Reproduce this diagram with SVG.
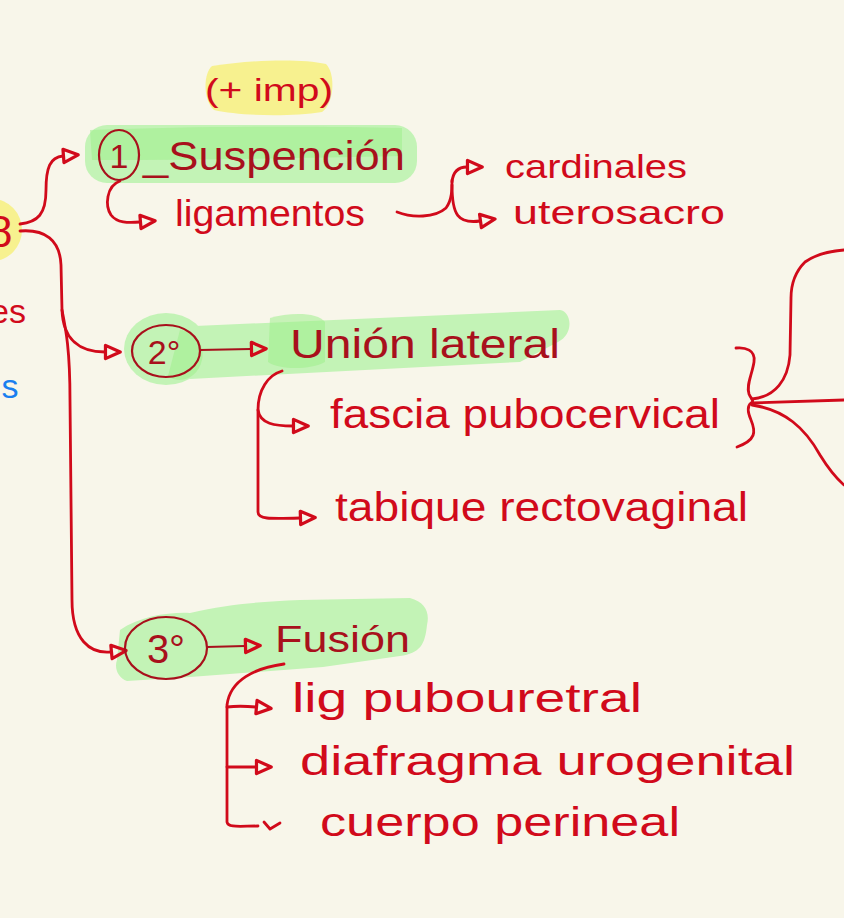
<svg xmlns="http://www.w3.org/2000/svg" width="844" height="918" viewBox="0 0 844 918">
<style>
.t{font-family:"Liberation Sans","DejaVu Sans",sans-serif;fill:#d10a1b}
.td{font-family:"Liberation Sans","DejaVu Sans",sans-serif;fill:#a8101c}
.ln{fill:none;stroke:#d10a1b;stroke-width:2.8;stroke-linecap:round;stroke-linejoin:round}
.lnd{fill:none;stroke:#a8101c;stroke-width:2.2;stroke-linecap:round}
.arr{marker-end:url(#ah)}
.g{fill:#c3f3b6}
.gd{fill:#9eef8c;opacity:0.55}
.y{fill:#f7f18f}
</style>
<defs>
<marker id="ah" viewBox="0 0 20 20" markerWidth="19" markerHeight="19" refX="2" refY="10" orient="auto" markerUnits="userSpaceOnUse">
<path d="M2.5,3 L18,10 L2.5,17 Z" fill="none" stroke="#d10a1b" stroke-width="3.4" stroke-linejoin="round"/>
</marker>
</defs>
<rect width="844" height="918" fill="#f8f6ea"/>

<g id="highlights">
<ellipse class="y" cx="-8" cy="230" rx="30" ry="31"/>
<path class="y" d="M212,66 C250,60 300,58 326,64 C336,74 334,104 322,112 C290,117 240,116 214,110 C203,100 203,74 212,66 Z"/>
<rect class="g" x="85" y="125" width="332" height="58" rx="22"/>
<path class="gd" d="M90,130 C200,126 320,126 402,128 L402,156 C300,158 200,160 92,160 Z"/>
<ellipse class="g" cx="166" cy="349" rx="42" ry="36"/>
<path class="g" d="M195,326 L560,310 C572,312 574,334 558,342 L520,362 L190,379 Z"/>
<path class="gd" d="M270,318 C290,312 318,312 325,322 L325,362 C310,370 280,370 268,362 Z"/>
<path class="gd" d="M180,330 C195,330 205,345 202,360 C198,378 180,385 168,376 Z"/>
<path class="g" d="M120,630 C140,616 170,612 190,613 C230,604 257,602 300,600 L410,598 C425,602 430,612 427,625 C425,645 420,653 400,656 L323,667 L190,677 L127,681 C118,678 114,668 117,660 Z"/>
</g>

<g id="connectors">
<path class="ln arr" d="M20,224 C38,222 46,214 46,190 C46,168 50,157 63,156"/>
<path class="ln arr" d="M20,231 C45,229 60,240 61,265 L62,310 C63,340 80,352 105,352"/>
<path class="ln arr" d="M62,310 C66,330 70,350 70,400 L72,600 C72,640 90,654 111,652"/>
<path class="ln arr" d="M120,181 C106,186 105,206 111,215 C117,223 128,223 140,222"/>
<path class="ln" d="M397,212 C412,218 435,218 446,208 C452,200 452,190 452,180"/>
<path class="ln arr" d="M452,182 C453,172 458,167 467,167"/>
<path class="ln arr" d="M452,185 C452,215 458,224 480,221"/>
<path class="lnd arr" d="M200,350 L251,349"/>
<path class="ln arr" d="M282,371 C268,375 258,390 258,410 L258,512 C258,519 268,519 300,518"/>
<path class="ln arr" d="M258,410 C260,424 275,426 293,426"/>
<path class="lnd arr" d="M207,647 L245,646"/>
<path class="ln" d="M284,664 C255,668 230,680 227,705 L227,822 C228,828 240,826 258,826"/>
<path class="ln arr" d="M227,707 C235,706 245,706 256,707"/>
<path class="ln arr" d="M227,767 L256,767"/>
<path class="ln" d="M264,822 L270,829 L280,823"/>
<path class="ln" d="M736,348 C745,347 756,350 754,362 C752,375 746,385 749,394 C751,399 755,401 751,403 C747,406 748,413 751,420 C756,432 756,440 737,447"/>
<path class="ln" d="M752,399 C775,397 788,380 790,355 L791,298 C791,285 795,272 805,262 C815,255 830,251 844,250"/>
<path class="ln" d="M752,403 L844,400"/>
<path class="ln" d="M752,405 C785,410 805,428 820,455 C828,468 836,478 844,485"/>
</g>

<g id="edge">
<text class="t" x="-12" y="247" font-size="44">8</text>
<text class="t" x="-10" y="323" font-size="34">es</text>
<text x="-6" y="398" font-size="34" style="font-family:'Liberation Sans',sans-serif;fill:#1a7ff0">is</text>
</g>

<g id="imp"><text class="t" x="205" y="101" font-size="31" textLength="128" lengthAdjust="spacingAndGlyphs">(+ imp)</text></g>

<g id="n1">
<ellipse cx="119" cy="155" rx="20" ry="25" fill="none" stroke="#a8101c" stroke-width="2.2"/>
<text class="td" x="119" y="168" font-size="34" text-anchor="middle">1</text>
<text class="td" x="143" y="170" font-size="40" textLength="262" lengthAdjust="spacingAndGlyphs">_Suspención</text>
</g>
<g id="ligamentos"><text class="t" x="175" y="226" font-size="36" textLength="190" lengthAdjust="spacingAndGlyphs">ligamentos</text></g>
<g id="cardinales"><text class="t" x="505" y="178" font-size="34" textLength="182" lengthAdjust="spacingAndGlyphs">cardinales</text></g>
<g id="uterosacro"><text class="t" x="513" y="224" font-size="34" textLength="212" lengthAdjust="spacingAndGlyphs">uterosacro</text></g>

<g id="n2">
<ellipse cx="166" cy="351" rx="34" ry="26" fill="none" stroke="#a8101c" stroke-width="2.2"/>
<text class="td" x="164" y="364" font-size="34" text-anchor="middle">2°</text>
</g>
<g id="union"><text class="td" x="290" y="358" font-size="40" textLength="270" lengthAdjust="spacingAndGlyphs">Unión lateral</text></g>
<g id="fascia"><text class="t" x="330" y="428" font-size="40" textLength="390" lengthAdjust="spacingAndGlyphs">fascia pubocervical</text></g>
<g id="tabique"><text class="t" x="335" y="521" font-size="40" textLength="413" lengthAdjust="spacingAndGlyphs">tabique rectovaginal</text></g>

<g id="n3">
<ellipse cx="166" cy="648" rx="41" ry="31" fill="none" stroke="#a8101c" stroke-width="2.2"/>
<text class="td" x="166" y="663" font-size="40" text-anchor="middle">3°</text>
</g>
<g id="fusion"><text class="td" x="275" y="652" font-size="36" textLength="135" lengthAdjust="spacingAndGlyphs">Fusión</text></g>
<g id="lig"><text class="t" x="292" y="712" font-size="40" textLength="350" lengthAdjust="spacingAndGlyphs">lig pubouretral</text></g>
<g id="diafragma"><text class="t" x="300" y="775" font-size="40" textLength="495" lengthAdjust="spacingAndGlyphs">diafragma urogenital</text></g>
<g id="cuerpo"><text class="t" x="320" y="836" font-size="40" textLength="360" lengthAdjust="spacingAndGlyphs">cuerpo perineal</text></g>
</svg>
